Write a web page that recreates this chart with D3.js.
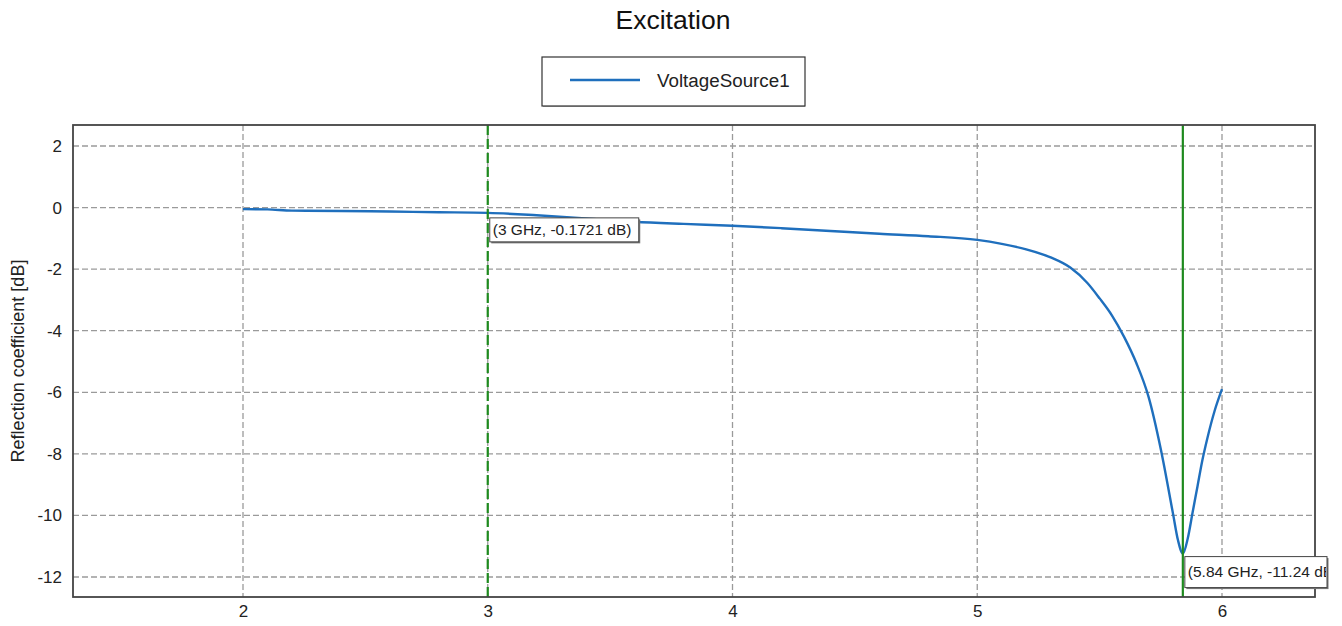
<!DOCTYPE html>
<html>
<head>
<meta charset="utf-8">
<script src="https://cdn.jsdelivr.net/npm/d3@7"></script>
<style>
  html, body { margin: 0; padding: 0; background: #fff; }
  svg { display: block; }
  text { font-family: "Liberation Sans", Arial, sans-serif; }
</style>
</head>
<body>
<svg id="chart" width="1342" height="626"></svg>
<script>
// Frequency sweep (GHz) and reflection coefficient (dB) of VoltageSource1
const freqGHz = [2.0, 2.1, 2.2, 2.4, 2.6, 2.8, 3.0, 3.2, 3.4, 3.6, 3.8, 4.0, 4.2, 4.4, 4.6, 4.8,
  5.0, 5.1, 5.2, 5.3, 5.38, 5.45, 5.5, 5.55, 5.6, 5.65, 5.7, 5.75, 5.8, 5.82, 5.84,
  5.86, 5.88, 5.9, 5.92, 5.94, 5.97, 6.0];
const reflectionDb = [-0.05, -0.06, -0.1, -0.11, -0.13, -0.15, -0.1721, -0.25, -0.35, -0.46, -0.53, -0.59, -0.67, -0.76, -0.85, -0.93,
  -1.05, -1.18, -1.36, -1.62, -1.95, -2.45, -2.95, -3.5, -4.2, -5.05, -6.15, -7.85, -9.95, -10.8, -11.24,
  -10.75, -9.9, -9.05, -8.2, -7.5, -6.6, -5.9];

// Marker positions (GHz, dB)
const markerFreq = [3, 5.84];
const markerDb = [-0.1721, -11.24];
const markerLabels = ["(3 GHz, -0.1721 dB)", "(5.84 GHz, -11.24 dB)"];

const xTicks = [2, 3, 4, 5, 6];
const yTicks = [2, 0, -2, -4, -6, -8, -10, -12];

const seriesName = "VoltageSource1";
const chartTitle = "Excitation";
const yLabel = "Reflection coefficient [dB]";

const svg = d3.select("#chart");
const plot = { left: 73, right: 1315, top: 125, bottom: 597 };

const x = d3.scaleLinear().domain([1.3054, 6.38]).range([plot.left, plot.right]);
const y = d3.scaleLinear().domain([-12.65, 2.682]).range([plot.bottom, plot.top]);

const gridColor = "#9a9a9a";
const curveColor = "#1f6fbd";
const markerColor = "#1e8a1e";
const intFmt = d => String(d); // plain hyphen for negatives

// Title
svg.append("text")
  .attr("x", 673).attr("y", 29)
  .attr("text-anchor", "middle")
  .attr("font-size", 26.5).attr("fill", "#111")
  .text(chartTitle);

// Legend
const legend = svg.append("g");
legend.append("rect")
  .attr("x", 542).attr("y", 57).attr("width", 263).attr("height", 49)
  .attr("fill", "#fff").attr("stroke", "#333").attr("stroke-width", 1.2);
legend.append("line")
  .attr("x1", 543).attr("x2", 805).attr("y1", 106.5).attr("y2", 106.5)
  .attr("stroke", "#666").attr("stroke-width", 1);
legend.append("line")
  .attr("x1", 570).attr("x2", 640).attr("y1", 80).attr("y2", 80)
  .attr("stroke", curveColor).attr("stroke-width", 2.5);
legend.append("text")
  .attr("x", 657).attr("y", 87)
  .attr("font-size", 18.8).attr("fill", "#222")
  .text(seriesName);

// Grid
const grid = svg.append("g");
grid.selectAll("line.gx").data(xTicks).join("line")
  .attr("class", "gx")
  .attr("x1", d => x(d)).attr("x2", d => x(d))
  .attr("y1", plot.top).attr("y2", plot.bottom)
  .attr("stroke", gridColor).attr("stroke-width", 1.3).attr("stroke-dasharray", "6,3");
grid.selectAll("line.gy").data(yTicks).join("line")
  .attr("class", "gy")
  .attr("x1", plot.left).attr("x2", plot.right)
  .attr("y1", d => y(d)).attr("y2", d => y(d))
  .attr("stroke", gridColor).attr("stroke-width", 1.3).attr("stroke-dasharray", "6,3");

// Axes (labels only, no outer ticks)
const xAxis = svg.append("g")
  .attr("transform", `translate(0,${plot.bottom})`)
  .call(d3.axisBottom(x).tickValues(xTicks).tickSize(0).tickPadding(8).tickFormat(intFmt));
xAxis.select(".domain").remove();
xAxis.selectAll("text").attr("font-size", 17).attr("fill", "#222")
  .attr("font-family", "'Liberation Sans', Arial, sans-serif");

const yAxis = svg.append("g")
  .attr("transform", `translate(${plot.left},0)`)
  .call(d3.axisLeft(y).tickValues(yTicks).tickSize(0).tickPadding(11).tickFormat(intFmt));
yAxis.select(".domain").remove();
yAxis.selectAll("text").attr("font-size", 17).attr("fill", "#222")
  .attr("font-family", "'Liberation Sans', Arial, sans-serif");

// Y axis title
svg.append("text")
  .attr("transform", `translate(24,${(plot.top + plot.bottom) / 2}) rotate(-90)`)
  .attr("text-anchor", "middle")
  .attr("font-size", 18).attr("fill", "#222")
  .text(yLabel);

// Clip for plot contents
svg.append("clipPath").attr("id", "plotClip")
  .append("rect")
  .attr("x", plot.left).attr("y", plot.top)
  .attr("width", plot.right - plot.left).attr("height", plot.bottom - plot.top);

// Reflection curve
const pts = freqGHz.map((f, i) => [f, reflectionDb[i]]);
svg.append("path")
  .datum(pts)
  .attr("clip-path", "url(#plotClip)")
  .attr("fill", "none")
  .attr("stroke", curveColor)
  .attr("stroke-width", 2.4)
  .attr("stroke-linejoin", "round")
  .attr("d", d3.line().x(d => x(d[0])).y(d => y(d[1])).curve(d3.curveMonotoneX));

// Marker lines
svg.append("line")
  .attr("x1", x(markerFreq[0])).attr("x2", x(markerFreq[0]))
  .attr("y1", plot.top).attr("y2", plot.bottom)
  .attr("stroke", markerColor).attr("stroke-width", 2.2).attr("stroke-dasharray", "10,4");
svg.append("line")
  .attr("x1", x(markerFreq[1])).attr("x2", x(markerFreq[1]))
  .attr("y1", plot.top).attr("y2", plot.bottom)
  .attr("stroke", markerColor).attr("stroke-width", 2.2);

// Plot frame
svg.append("rect")
  .attr("x", plot.left).attr("y", plot.top)
  .attr("width", plot.right - plot.left).attr("height", plot.bottom - plot.top)
  .attr("fill", "none").attr("stroke", "#444").attr("stroke-width", 1.8);

// Marker value boxes
const boxRight = 1327;
svg.append("clipPath").attr("id", "boxClip")
  .append("rect").attr("x", 0).attr("y", 0).attr("width", boxRight - 1).attr("height", 626);

function markerBox(i, dy, h, w) {
  const bx = x(markerFreq[i]) + 2;
  const by = y(markerDb[i]) + dy;
  const g = svg.append("g");
  const width = Math.min(w, boxRight - bx);
  g.append("rect")
    .attr("x", bx + 1.5).attr("y", by + 1.5).attr("width", width).attr("height", h)
    .attr("fill", "#777");
  g.append("rect")
    .attr("x", bx).attr("y", by).attr("width", width).attr("height", h)
    .attr("fill", "#fff").attr("stroke", "#444").attr("stroke-width", 1);
  g.append("text")
    .attr("clip-path", "url(#boxClip)")
    .attr("x", bx + 3).attr("y", by + h / 2 + 5)
    .attr("font-family", "'DejaVu Sans', Verdana, sans-serif")
    .attr("font-size", 15.5).attr("fill", "#222")
    .text(markerLabels[i]);
}
markerBox(0, 5, 24, 149);
markerBox(1, 3, 31, 200);
</script>
</body>
</html>
